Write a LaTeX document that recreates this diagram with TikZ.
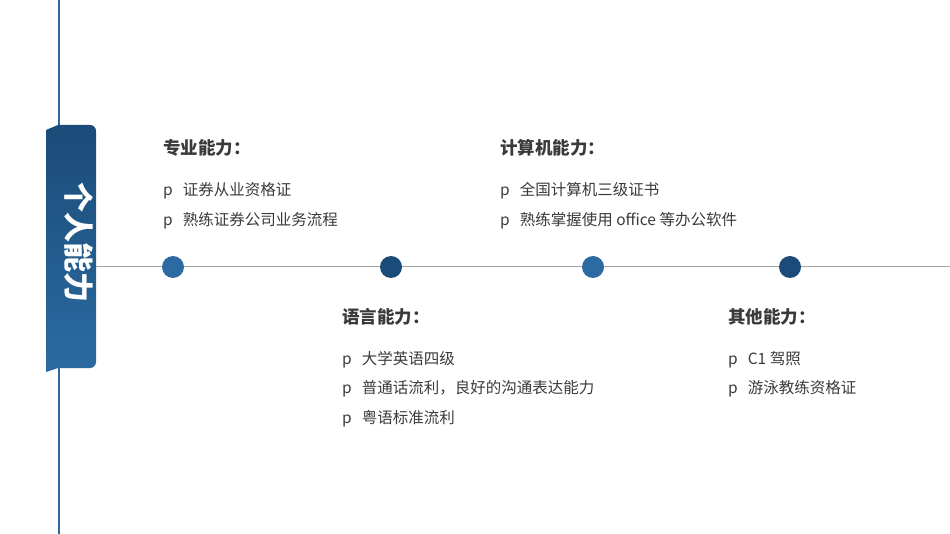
\documentclass[tikz,border=0pt]{standalone}
\usepackage{fontspec}
\setmainfont{Noto Sans CJK SC}
\definecolor{lb}{HTML}{2B6BA2}
\definecolor{db}{HTML}{1B4B78}
\definecolor{tx}{HTML}{3A3A3A}
\begin{document}
\begin{tikzpicture}[x=1pt,y=-1pt,
  head/.style={anchor=west,font=\fontsize{17.5}{17.5}\selectfont\bfseries,text=tx,inner sep=0},
  item/.style={anchor=west,font=\fontsize{15.5}{15.5}\selectfont,text=tx,inner sep=0},
  dot/.style={circle,minimum size=22pt,inner sep=0}]
\useasboundingbox (0,0) rectangle (950,534);
\draw[lb,line width=2pt] (59,0) -- (59,534);
\coordinate (ls) at (96,266);
\coordinate (le) at (950,266);
\draw[gray!70,line width=0.8pt] (ls) -- (le);
\shade[top color=db,bottom color=lb] (46,130) -- (58,125) -- (90,125) to[out=0,in=90] (96,131) -- (96,362) to[out=-90,in=0] (90,368) -- (58,368) -- (46,372) -- cycle;
\node[rotate=-90,text=white,font=\fontsize{30}{30}\selectfont\bfseries] (tab) at (79,243) {个人能力};
\node[dot,fill=lb] (c1) at (173,267) {};
\node[dot,fill=db] (c2) at (391,267) {};
\node[dot,fill=lb] (c3) at (593,267) {};
\node[dot,fill=db] (c4) at (790,267) {};
\node[head] (h1) at (163,148) {专业能力：};
\node[item] (a1) at (163,191) {p\hspace{10pt}证券从业资格证};
\node[item] (a2) at (163,221) {p\hspace{10pt}熟练证券公司业务流程};
\node[head] (h2) at (500,148) {计算机能力：};
\node[item] (b1) at (500,191) {p\hspace{10pt}全国计算机三级证书};
\node[item] (b2) at (500,221) {p\hspace{10pt}熟练掌握使用 office 等办公软件};
\node[head] (h3) at (342,317) {语言能力：};
\node[item] (d1) at (342,360) {p\hspace{10pt}大学英语四级};
\node[item] (d2) at (342,389) {p\hspace{10pt}普通话流利，良好的沟通表达能力};
\node[item] (d3) at (342,419) {p\hspace{10pt}粤语标准流利};
\node[head] (h4) at (728,317) {其他能力：};
\node[item] (e1) at (728,360) {p\hspace{10pt}C1 驾照};
\node[item] (e2) at (728,389) {p\hspace{10pt}游泳教练资格证};
\end{tikzpicture}
\end{document}
